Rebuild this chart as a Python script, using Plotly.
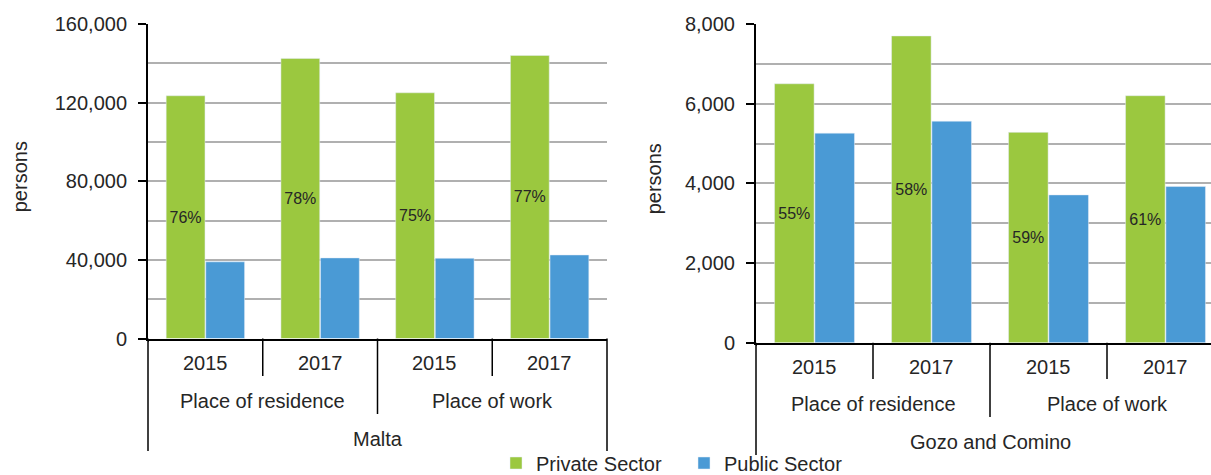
import plotly.graph_objects as go

# ---------------- data ----------------
places = ["Place of residence", "Place of residence", "Place of work", "Place of work"]
years = ["2015", "2017", "2015", "2017"]
regions = ["Malta", "Gozo and Comino"]
series_names = ["Private Sector", "Public Sector"]

malta_private = [123500, 142500, 125000, 144000]
malta_public = [39000, 41000, 40800, 42500]
gozo_private = [6500, 7700, 5280, 6200]
gozo_public = [5260, 5560, 3710, 3920]

malta_share = ["76%", "78%", "75%", "77%"]
gozo_share = ["55%", "58%", "59%", "61%"]

malta_ticks = [0, 40000, 80000, 120000, 160000]
gozo_ticks = [0, 2000, 4000, 6000, 8000]

# ---------------- styling ----------------
W, H = 1211, 475
GREEN = "#9BC83F"
BLUE = "#4A9AD5"
TXT = "#262626"
GRID = "#B0B0B0"
FONT = "Liberation Sans, Arial, sans-serif"
FS = 20


def px(x):
    return x / W


def py(y):
    return 1 - y / H


panels = [
    dict(region=regions[0], private=malta_private, public=malta_public, share=malta_share,
         ticks=malta_ticks, minor=20000, x0=148, x1=607, top=24, bottom=338.5,
         cat_w=(607 - 148) / 4, year_y=363, place_y=401, region_y=439,
         short_end=376, mid_end=414, long_end=451, title_x=20),
    dict(region=regions[1], private=gozo_private, public=gozo_public, share=gozo_share,
         ticks=gozo_ticks, minor=1000, x0=756, x1=1211, top=24, bottom=342.7,
         cat_w=117, year_y=367, place_y=404, region_y=442,
         short_end=379, mid_end=417, long_end=455, title_x=654),
]

fig = go.Figure()
annotations = []
shapes = []

for k, p in enumerate(panels):
    xa = "x" if k == 0 else "x2"
    ya = "y" if k == 0 else "y2"
    xcat = [places, years]
    fig.add_trace(go.Bar(
        x=xcat, y=p["private"], name=series_names[0], marker_color=GREEN,
        text=p["share"], textposition="inside", insidetextanchor="middle",
        textangle=0, textfont=dict(size=16, color=TXT, family=FONT),
        xaxis=xa, yaxis=ya, showlegend=(k == 0), legendgroup="priv",
        hoverinfo="skip",
    ))
    fig.add_trace(go.Bar(
        x=xcat, y=p["public"], name=series_names[1], marker_color=BLUE,
        xaxis=xa, yaxis=ya, showlegend=(k == 0), legendgroup="pub",
        hoverinfo="skip",
    ))

    n = len(years)
    r0 = -0.5
    r1 = r0 + (p["x1"] - p["x0"]) / p["cat_w"]
    axis_suffix = "" if k == 0 else "2"
    fig.update_layout({
        "xaxis" + axis_suffix: dict(
            type="multicategory", domain=[px(p["x0"]), px(p["x1"])], range=[r0, r1],
            showticklabels=False, ticks="", showline=True, linecolor="black",
            linewidth=2, showgrid=False, zeroline=False, anchor=ya, fixedrange=True,
        ),
        "yaxis" + axis_suffix: dict(
            domain=[py(p["bottom"]), py(p["top"])], range=[0, p["ticks"][-1]],
            tickvals=p["ticks"], tickformat=",", ticks="outside", ticklen=8,
            tickwidth=1.5, tickcolor="black", ticklabelstandoff=7,
            showline=True, linecolor="black", linewidth=2,
            showgrid=True, gridcolor=GRID, gridwidth=1.5, zeroline=False,
            minor=dict(dtick=p["minor"], showgrid=True, gridcolor=GRID, gridwidth=1.5, ticks=""),
            tickfont=dict(size=FS, color=TXT, family=FONT), anchor=xa, fixedrange=True,
            automargin=False,
        ),
    })

    def xpix(idx, p=p, r0=r0):
        return p["x0"] + (idx - r0) * p["cat_w"]

    # year labels
    for i, yr in enumerate(years):
        annotations.append(dict(text=yr, x=px(xpix(i)), y=py(p["year_y"]), xref="paper",
                                yref="paper", showarrow=False, xanchor="center", yanchor="middle",
                                font=dict(size=FS, color=TXT, family=FONT)))
    # place labels
    groups = []
    for i, pl in enumerate(places):
        if groups and groups[-1][0] == pl:
            groups[-1][1].append(i)
        else:
            groups.append((pl, [i]))
    for pl, idxs in groups:
        c = sum(idxs) / len(idxs)
        annotations.append(dict(text=pl, x=px(xpix(c)), y=py(p["place_y"]), xref="paper",
                                yref="paper", showarrow=False, xanchor="center", yanchor="middle",
                                font=dict(size=FS, color=TXT, family=FONT)))
    # region label
    annotations.append(dict(text=p["region"], x=px(xpix((n - 1) / 2)), y=py(p["region_y"]),
                            xref="paper", yref="paper", showarrow=False, xanchor="center",
                            yanchor="middle", font=dict(size=FS, color=TXT, family=FONT)))
    # y title
    annotations.append(dict(text="persons", x=px(p["title_x"]), y=py((p["top"] + p["bottom"]) / 2 - 4),
                            xref="paper", yref="paper", showarrow=False, textangle=-90,
                            xanchor="center", yanchor="middle",
                            font=dict(size=FS, color=TXT, family=FONT)))

    # divider lines
    ax_y = p["bottom"]
    for b in range(n + 1):
        bx = xpix(b - 0.5)
        if bx > W:
            continue
        if b == 0 or b == n:
            end = p["long_end"]
        elif places[b] != places[b - 1]:
            end = p["mid_end"]
        else:
            end = p["short_end"]
        shapes.append(dict(type="line", xref="paper", yref="paper", x0=px(bx), x1=px(bx),
                           y0=py(ax_y), y1=py(end), line=dict(color="black", width=1.5)))

fig.update_layout(
    width=W, height=H, margin=dict(l=0, r=0, t=0, b=0, autoexpand=False),
    paper_bgcolor="white", plot_bgcolor="white",
    barmode="group", bargap=0.31, bargroupgap=0.02,
    font=dict(family=FONT, color=TXT, size=FS),
    showlegend=True,
    legend=dict(orientation="h", x=px(496), xanchor="left", y=py(463), yanchor="middle",
                font=dict(size=FS, color=TXT, family=FONT), entrywidth=143,
                bgcolor="rgba(0,0,0,0)", traceorder="normal"),
    annotations=annotations, shapes=shapes,
)

fig.write_html("out.html", config={"displayModeBar": False},
               post_script="document.body.style.margin='0';")
